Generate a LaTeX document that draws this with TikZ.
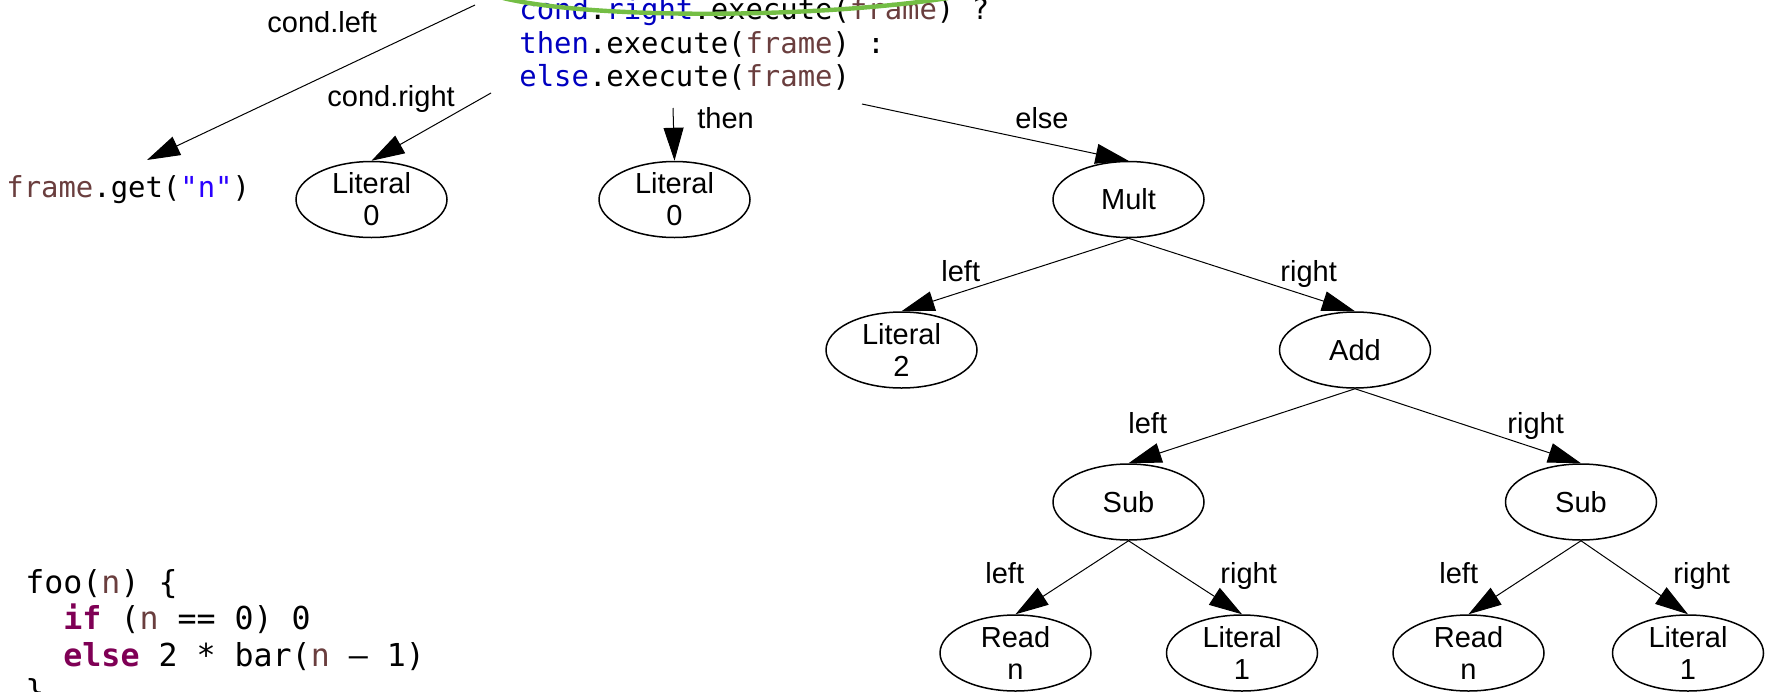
\documentclass[tikz,border=0pt]{standalone}
\usepackage{fontspec}
\setmainfont{Liberation Sans}
\newfontfamily\monofont{DejaVu Sans Mono}
\usetikzlibrary{shapes.geometric, arrows.meta}
\definecolor{kw}{HTML}{7F0055}
\definecolor{lvar}{HTML}{6A3E3E}
\definecolor{fld}{HTML}{0000C0}
\definecolor{str}{HTML}{2A00FF}
\definecolor{hl}{HTML}{74BE45}
\begin{document}
\begin{tikzpicture}[x=0.5pt,y=-0.5pt,
  tree/.style={ellipse, draw, line width=0.75pt, minimum width=75.5pt,
    minimum height=38pt, inner sep=0pt, align=center,
    font=\fontsize{14.5pt}{16pt}\selectfont},
  lab/.style={anchor=base west, inner sep=0pt,
    font=\fontsize{14.5pt}{16pt}\selectfont},
  edge/.style={line width=0.5pt, -{Triangle[length=16.5pt,width=10pt]}},
  code/.style={anchor=base west, inner sep=0pt, align=left,
    font=\monofont\fontsize{14.45pt}{16.75pt}\selectfont},
  bigcode/.style={code, font=\monofont\fontsize{15.8pt}{18.25pt}\selectfont},
]
\useasboundingbox (0,0) rectangle (1767,691);

% evaluation of the conditional node (anchored on its last baseline)
\node[code] (cond) at (519,86.5) {\textcolor{fld}{cond}.\textcolor{fld}{right}.execute(\textcolor{lvar}{frame}) ?\\
\textcolor{fld}{then}.execute(\textcolor{lvar}{frame}) :\\
\textcolor{fld}{else}.execute(\textcolor{lvar}{frame})};

\node[code] (fg) at (6,197) {\textcolor{lvar}{frame}.get(\textcolor{str}{"n"})};

% edge start points on the conditional's outline
\coordinate (s1) at (475,5);
\coordinate (s2) at (491,93);
\coordinate (s3) at (673,108);
\coordinate (s4) at (862,104);
\coordinate (fgtip) at (147,160);

% AST nodes
\node[tree] (lit0a) at (371.5,199.5) {Literal\\0};
\node[tree] (lit0b) at (674.5,199.5) {Literal\\0};
\node[tree] (mult)  at (1128.5,199.5) {Mult};
\node[tree] (lit2)  at (901.5,350) {Literal\\2};
\node[tree] (add)   at (1355,350) {Add};
\node[tree] (subl)  at (1128.5,502) {Sub};
\node[tree] (subr)  at (1581,502) {Sub};
\node[tree] (readl) at (1015.5,653) {Read\\n};
\node[tree] (lit1l) at (1242,653) {Literal\\1};
\node[tree] (readr) at (1468.5,653) {Read\\n};
\node[tree] (lit1r) at (1688,653) {Literal\\1};

% child edges
\draw[edge] (s1) -- (fgtip);
\draw[edge] (s2) -- (lit0a.north);
\draw[edge] (s3) -- (lit0b.north);
\draw[edge] (s4) -- (mult.north);
\draw[edge] (mult.south) -- (lit2.north);
\draw[edge] (mult.south) -- (add.north);
\draw[edge] (add.south) -- (subl.north);
\draw[edge] (add.south) -- (subr.north);
\draw[edge] (subl.south) -- (readl.north);
\draw[edge] (subl.south) -- (lit1l.north);
\draw[edge] (subr.south) -- (readr.north);
\draw[edge] (subr.south) -- (lit1r.north);

% edge labels
\node[lab] (lcl) at (267,32) {cond.left};
\node[lab] (lcr) at (327,106) {cond.right};
\node[lab] (lth) at (697,128) {then};
\node[lab] (lel) at (1015,128) {else};
\node[lab] (l1) at (941,281) {left};
\node[lab] (r1) at (1280,281) {right};
\node[lab] (l2) at (1128,433) {left};
\node[lab] (r2) at (1507,433) {right};
\node[lab] (l3) at (985,583) {left};
\node[lab] (r3) at (1220,583) {right};
\node[lab] (l4) at (1439,583) {left};
\node[lab] (r4) at (1673,583) {right};

% source program (anchored on its last baseline)
\node[bigcode] (foo) at (25,702.5) {foo(\textcolor{lvar}{n}) \{\\
\phantom{xx}\textbf{\textcolor{kw}{if}} (\textcolor{lvar}{n} == 0) 0\\
\phantom{xx}\textbf{\textcolor{kw}{else}} 2 * bar(\textcolor{lvar}{n} – 1)\\
\}};

% highlight stroke
\draw[hl, line width=2.2pt] (503,-2) .. controls (590,19) and (810,19) .. (948,-2);
\end{tikzpicture}
\end{document}
